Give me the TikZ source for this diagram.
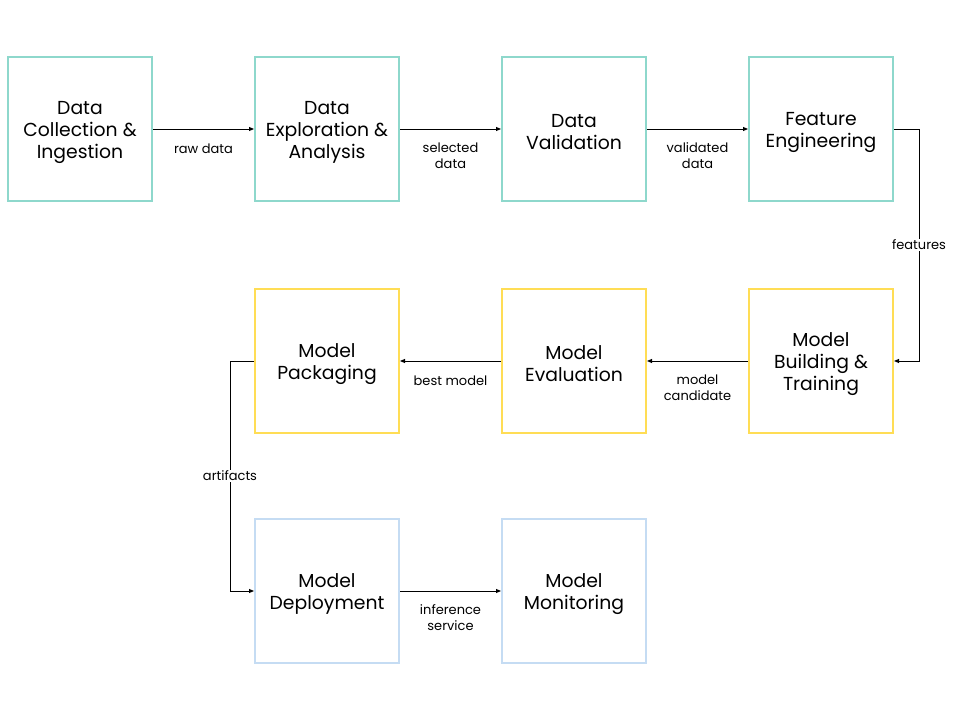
\documentclass[tikz,border=0pt]{standalone}
\usepackage{fontspec}
\setmainfont{Poppins}
\usepackage{tikz}
\usetikzlibrary{
  positioning,
  arrows.meta}

\definecolor{datateal}{HTML}{8ED8CC}
\definecolor{modelyellow}{HTML}{FFDD55}
\definecolor{opsblue}{HTML}{C5DCF3}

\begin{document}
\begin{tikzpicture}[
  x=1pt, y=1pt,
  node distance=101pt,
  stage/.style={draw, line width=2pt, minimum size=144pt, align=center,
    font=\fontsize{18.8}{22}\selectfont,
    execute at begin node={\vbox\bgroup\kern6pt},
    execute at end node={\egroup}},
  datastage/.style={stage, draw=datateal},
  modelstage/.style={stage, draw=modelyellow},
  opsstage/.style={stage, draw=opsblue},
  flow/.style={line width=0.9pt, -{Triangle[length=5pt,width=4pt]}},
  lbl/.style={align=center, font=\fontsize{13}{16}\selectfont},
]
\useasboundingbox (0,0) rectangle (960,720);
\node[datastage] (ingest) at (80,591) {Data\\Collection \&\\Ingestion};
\node[datastage, right=of ingest] (explore) {Data\\Exploration \&\\Analysis};
\node[datastage, right=of explore] (valid) {Data\\Validation};
\node[datastage, right=of valid] (feat) {Feature\\Engineering};
\node[modelstage, below=86pt of feat] (train) {Model\\Building \&\\Training};
\node[modelstage, left=of train] (eval) {Model\\Evaluation};
\node[modelstage, left=of eval] (pack) {Model\\Packaging};
\node[opsstage, below=84pt of pack] (deploy) {Model\\Deployment};
\node[opsstage, right=of deploy] (monitor) {Model\\Monitoring};

\draw[flow] (ingest) -- node[lbl, below=11pt] {raw data} (explore);
\draw[flow] (explore) -- node[lbl, below=10pt] {selected\\data} (valid);
\draw[flow] (valid) -- node[lbl, below=10pt] {validated\\data} (feat);
\draw[flow] (feat.east) -- ++(25,0) coordinate (fbend)
  -- (fbend |- train.east) node[midway, lbl, fill=white, inner sep=1pt] {features}
  -- (train.east);
\draw[flow] (train) -- node[lbl, below=10pt] {model\\candidate} (eval);
\draw[flow] (eval) -- node[lbl, below=11pt] {best model} (pack);
\draw[flow] (pack.west) -- ++(-24,0) coordinate (abend)
  -- (abend |- deploy.west) node[midway, lbl, fill=white, inner sep=1pt] {artifacts}
  -- (deploy.west);
\draw[flow] (deploy) -- node[lbl, below=10pt] {inference\\service} (monitor);
\end{tikzpicture}
\end{document}
